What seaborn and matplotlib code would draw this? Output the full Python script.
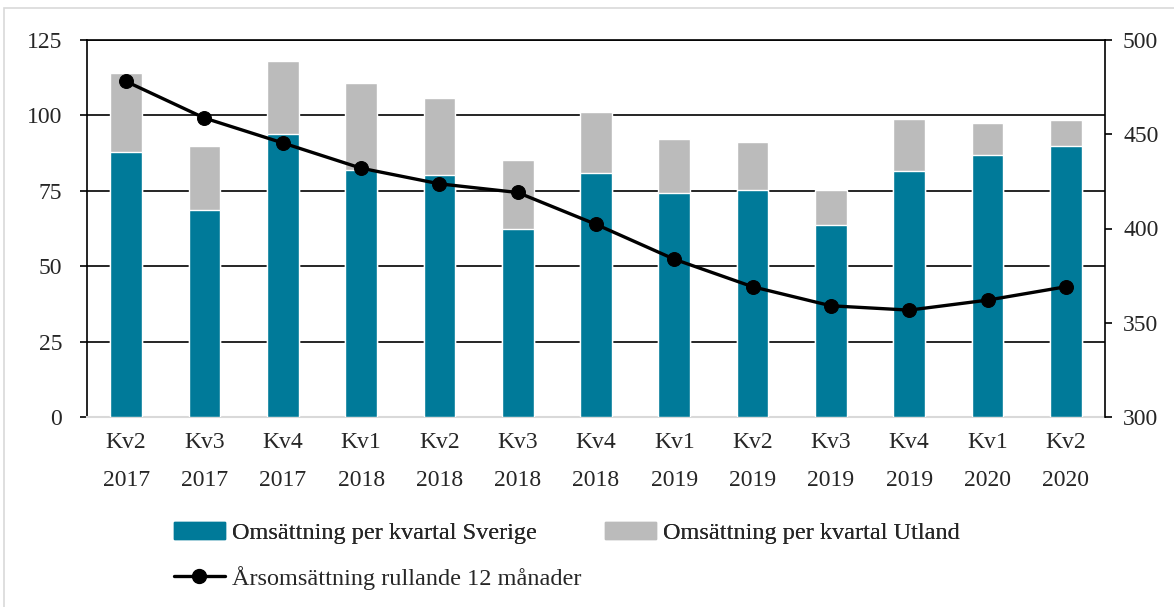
import numpy as np
import matplotlib
matplotlib.use("Agg")
import matplotlib.pyplot as plt
from matplotlib.lines import Line2D
from matplotlib.patches import Patch, Rectangle
import seaborn as sns

# quarters
kvartal = ["Kv2\n2017", "Kv3\n2017", "Kv4\n2017", "Kv1\n2018", "Kv2\n2018", "Kv3\n2018", "Kv4\n2018",
           "Kv1\n2019", "Kv2\n2019", "Kv3\n2019", "Kv4\n2019", "Kv1\n2020", "Kv2\n2020"]
# turnover per quarter (left axis)
sverige = [87.7, 68.5, 93.9, 81.8, 80.4, 62.4, 80.8, 74.3, 75.1, 63.5, 81.4, 86.9, 89.7]
utland = [26.2, 21.4, 24.3, 29.0, 25.5, 22.9, 20.4, 18.0, 16.2, 11.7, 17.3, 10.6, 8.8]
# rolling 12 months (right axis)
rullande = [478, 458.6, 445.4, 432, 423.7, 419.1, 402.2, 383.7, 369.1, 359.0, 356.7, 362.0, 369.1]

TEAL = "#007a99"
GREY = "#bbbbbb"
FS = 17

sns.set_style("white")
plt.rcParams["font.family"] = ["Liberation Serif", "DejaVu Serif"]
plt.rcParams["font.size"] = FS

fig = plt.figure(figsize=(11.74, 6.07), dpi=100)
ax = fig.add_axes([87 / 1174, 1 - 417 / 607, (1105 - 87) / 1174, (417 - 40) / 607])

total = np.add(sverige, utland)
sns.barplot(x=kvartal, y=total, color=GREY, width=0.405, saturation=1, ax=ax, zorder=2)
sns.barplot(x=kvartal, y=sverige, color=TEAL, width=0.405, saturation=1, ax=ax, zorder=3)

ax.set_ylim(0, 125)
ax.set_xlim(-0.5, len(kvartal) - 0.5)
ax.set_yticks([0, 25, 50, 75, 100, 125])
ax.yaxis.grid(True, color="black", linewidth=1.2, zorder=1)
ax.set_axisbelow(True)
ax.set_xlabel("")
ax.set_ylabel("")
for s in ["left", "top"]:
    ax.spines[s].set_color("black")
    ax.spines[s].set_linewidth(1.2)
ax.spines["bottom"].set_color("#d9d9d9")
ax.spines["bottom"].set_linewidth(1.5)
ax.spines["right"].set_visible(False)
ax.tick_params(axis="y", which="both", left=True, length=5, width=1.2, color="black", pad=13, labelsize=FS)
ax.tick_params(axis="x", length=0, pad=11, labelsize=FS)
for lbl in ax.get_xticklabels():
    lbl.set_linespacing(2.05)

ax2 = ax.twinx()
sns.lineplot(x=np.arange(len(kvartal)), y=rullande, ax=ax2, color="black", linewidth=2.4,
             marker="o", markersize=10, markeredgecolor="black", zorder=5)
ax2.set_ylim(300, 500)
ax2.set_yticks([300, 350, 400, 450, 500])
ax2.set_xlim(-0.5, len(kvartal) - 0.5)
for s in ["left", "top", "bottom"]:
    ax2.spines[s].set_visible(False)
ax2.spines["right"].set_color("black")
ax2.spines["right"].set_linewidth(1.2)
ax2.tick_params(axis="y", right=True, length=5, width=1.2, color="black", pad=8, labelsize=FS)

# legend laid out like the original: two bar entries on one row, line on the next
leg1 = fig.legend([Patch(color=TEAL), Patch(color=GREY)],
                  ["Omsättning per kvartal Sverige", "Omsättning per kvartal Utland"],
                  ncol=2, loc="center left", bbox_to_anchor=(164 / 1174, 1 - 533 / 607),
                  frameon=False, fontsize=FS + 0.5, handlelength=2.1, handletextpad=0.3,
                  columnspacing=2.8, borderaxespad=0)
fig.add_artist(leg1)
fig.legend([Line2D([], [], color="black", linewidth=2.4, marker="o", markersize=10)],
           ["Årsomsättning rullande 12 månader"],
           loc="center left", bbox_to_anchor=(164 / 1174, 1 - 578 / 607),
           frameon=False, fontsize=FS + 0.5, handlelength=2.1, handletextpad=0.3, borderaxespad=0)

fig.patches.append(Rectangle((4 / 1174, -0.1), 1.2, 1 - 8 / 607 + 0.1, transform=fig.transFigure,
                             fill=False, edgecolor="#d9d9d9", linewidth=1.2))

fig.savefig("out.png", dpi=100)
